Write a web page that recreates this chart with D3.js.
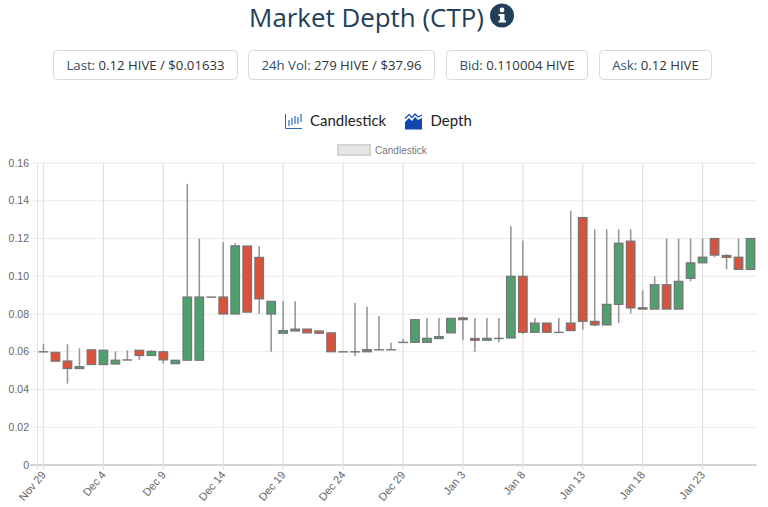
<!DOCTYPE html>
<html><head><meta charset="utf-8">
<script src="https://cdn.jsdelivr.net/npm/d3@7"></script>
<style>
html,body{margin:0;padding:0;background:#fff;overflow:hidden}
svg{display:block}
</style></head><body>
<svg id="c" width="768" height="507"></svg>
<script>
const days=["Nov 29","Nov 30","Dec 1","Dec 2","Dec 3","Dec 4","Dec 5","Dec 6","Dec 7","Dec 8","Dec 9","Dec 10","Dec 11","Dec 12","Dec 13","Dec 14","Dec 15","Dec 16","Dec 17","Dec 18","Dec 19","Dec 20","Dec 21","Dec 22","Dec 23","Dec 24","Dec 25","Dec 26","Dec 27","Dec 28","Dec 29","Dec 30","Dec 31","Jan 1","Jan 2","Jan 3","Jan 4","Jan 5","Jan 6","Jan 7","Jan 8","Jan 9","Jan 10","Jan 11","Jan 12","Jan 13","Jan 14","Jan 15","Jan 16","Jan 17","Jan 18","Jan 19","Jan 20","Jan 21","Jan 22","Jan 23","Jan 24","Jan 25","Jan 26","Jan 27"];
const opens=[.06,.0597,.0551,.0511,.061,.0532,.0535,.0557,.0608,.058,.06,.0537,.0555,.0555,.089,.089,.08,.116,.11,.08,.0698,.071,.072,.071,.07,.06,.06,.06,.0611,.0611,.065,.065,.065,.067,.07,.0779,.067,.0661,.0671,.0673,.1,.0703,.0752,.0703,.0752,.1311,.0761,.0742,.0851,.1186,.0833,.0826,.0955,.0826,.0989,.1071,.12,.111,.1101,.1036];
const closes=[.06,.055,.0511,.0521,.0532,.0608,.0555,.0557,.058,.0602,.0557,.0555,.089,.089,.089,.08,.1161,.081,.088,.0867,.0712,.072,.07,.0698,.06,.06,.06,.0611,.0611,.0611,.065,.077,.0671,.068,.0777,.077,.0661,.0671,.0671,.1,.0703,.0752,.0703,.0703,.0712,.0761,.0742,.0851,.1175,.0832,.0826,.0955,.0826,.0973,.1071,.1101,.1112,.11,.1036,.12];
const highs=[.0641,.0597,.064,.0618,.061,.0608,.0602,.0608,.0608,.0608,.0605,.0555,.149,.12,.089,.118,.1175,.116,.116,.0867,.0867,.0867,.072,.071,.07,.06,.0858,.0839,.0789,.0648,.0668,.077,.0779,.0779,.0777,.0786,.0779,.0779,.0779,.1265,.119,.0779,.0752,.0779,.1348,.1311,.1249,.1249,.1249,.1249,.0925,.1,.12,.12,.12,.12,.12,.1117,.12,.12];
const lows=[.06,.055,.0431,.0511,.0532,.0532,.0535,.0557,.0557,.058,.0537,.0537,.0555,.0555,.089,.08,.08,.081,.08,.06,.0698,.071,.07,.0698,.06,.06,.0578,.06,.0611,.0611,.065,.065,.065,.067,.07,.0661,.06,.0661,.065,.0673,.0694,.0703,.0703,.0703,.0712,.0717,.0735,.0742,.0752,.0802,.0826,.0826,.0826,.0826,.0973,.1071,.1101,.1036,.1036,.1036];
const yTicks=[0,.02,.04,.06,.08,.1,.12,.14,.16];
const xTickEvery=5;
const stats=[["Last:","0.12 HIVE / $0.01633"],["24h Vol:","279 HIVE / $37.96"],["Bid:","0.110004 HIVE"],["Ask:","0.12 HIVE"]];
const statBoxes=[[53.5,184],[248.5,186],[446.5,141],[599.5,112]];

const svg=d3.select("#c");
const F="'Open Sans',sans-serif", H="'Liberation Sans',Arial,sans-serif", L="Lato,sans-serif";
const x=d3.scaleBand().domain(days).range([37.5,756.5]);
const y=d3.scaleLinear().domain([0,.16]).range([465,163]);

// header
svg.append("text").attr("x",366.5).attr("y",27).attr("text-anchor","middle")
  .attr("font-family",F).attr("font-size",25.9).attr("fill","#213f59").text("Market Depth (CTP)");
svg.append("circle").attr("cx",502).attr("cy",15.5).attr("r",12).attr("fill","#213f59");
svg.append("rect").attr("x",500).attr("y",14).attr("width",4.5).attr("height",8).attr("fill","#fff");
svg.append("rect").attr("x",498.5).attr("y",14).attr("width",4).attr("height",2).attr("fill","#fff");
svg.append("rect").attr("x",498.5).attr("y",20.5).attr("width",7.5).attr("height",2).attr("fill","#fff");
svg.append("circle").attr("cx",502).attr("cy",10).attr("r",2.4).attr("fill","#fff");

const st=svg.selectAll("g.st").data(stats).join("g").attr("class","st");
st.append("rect").attr("x",(d,i)=>statBoxes[i][0]).attr("y",50.5).attr("width",(d,i)=>statBoxes[i][1]).attr("height",29)
  .attr("rx",4).attr("fill","#fff").attr("stroke","#d5d9dc").attr("stroke-width",1);
const tt=st.append("text").attr("x",(d,i)=>statBoxes[i][0]+statBoxes[i][1]/2).attr("y",70).attr("text-anchor","middle")
  .attr("font-family",F).attr("font-size",13.2);
tt.append("tspan").attr("fill","#2f4f6b").text(d=>d[0]+" ");
tt.append("tspan").attr("fill","#333").text(d=>d[1]);

// toggle row
const ic=svg.append("g").attr("fill","none").attr("stroke","#2a66c2");
ic.append("path").attr("d","M285.5 114V128.5H302").attr("stroke-width",1);
[[289,120,126],[292,118,125],[295,116,124],[298,117,124],[301,114,122]].forEach(a=>ic.append("path").attr("d",`M${a[0]} ${a[1]}V${a[2]}`).attr("stroke-width",1.2));
svg.append("path").attr("d","M405 129.5V122L409 118L412 121L415 117L418 120L422 118V129.5Z").attr("fill","#1148b0");
svg.append("path").attr("d","M405 118.5L409 114.5L412 117.5L415 114L418 117L422 115").attr("fill","none").attr("stroke","#1148b0").attr("stroke-width",1.2);
svg.append("text").attr("x",310).attr("y",125.5).attr("font-family",L).attr("font-size",15).attr("fill","#222").text("Candlestick");
svg.append("text").attr("x",430.5).attr("y",125.5).attr("font-family",L).attr("font-size",15).attr("fill","#222").text("Depth");

// chart legend
svg.append("rect").attr("x",338).attr("y",145).attr("width",32).attr("height",10).attr("fill","#e6e6e6").attr("stroke","#d2d2d2").attr("stroke-width",2);
svg.append("text").attr("x",375).attr("y",153.5).attr("font-family",H).attr("font-size",10).attr("fill","#777").text("Candlestick");

// grid
const gy=svg.append("g");
gy.selectAll("line").data(yTicks).join("line").attr("x1",30).attr("x2",756.5)
  .attr("y1",d=>y(d)).attr("y2",d=>y(d)).attr("stroke",d=>d===0?"#c4c4c4":"#eaeaea").attr("stroke-width",d=>d===0?1.5:1.2);
const tickDays=days.filter((d,i)=>i%xTickEvery===0);
const gx=svg.append("g");
gx.append("line").attr("x1",37.5).attr("x2",37.5).attr("y1",163).attr("y2",470).attr("stroke","#e2e2e2");
gx.selectAll("line.t").data(tickDays).join("line").attr("class","t")
  .attr("x1",d=>x(d)+x.bandwidth()/2).attr("x2",d=>x(d)+x.bandwidth()/2).attr("y1",163).attr("y2",470)
  .attr("stroke","#e0e0e0").attr("stroke-width",1.2);

// candles
const cg=svg.append("g");
const up=(i)=>closes[i]>=opens[i];
days.forEach((d,i)=>{
  const cx=x(d)+x.bandwidth()/2;
  cg.append("line").attr("x1",cx).attr("x2",cx).attr("y1",y(highs[i])).attr("y2",y(lows[i]))
    .attr("stroke","#989898").attr("stroke-width",1.6);
  const top=y(Math.max(opens[i],closes[i])), bot=y(Math.min(opens[i],closes[i]));
  cg.append("rect").attr("x",cx-4.3).attr("y",top).attr("width",8.6).attr("height",Math.max(bot-top,.2))
    .attr("fill",up(i)?"#4f9f6f":"#d9533c").attr("stroke","#757575").attr("stroke-width",1.2);
});

// labels
svg.append("g").selectAll("text").data(yTicks).join("text").attr("x",29).attr("y",d=>y(d)+3.5)
  .attr("text-anchor","end").attr("font-family",H).attr("font-size",10.5).attr("fill","#666")
  .text(d=>d===0?"0":d.toFixed(2));
svg.append("g").selectAll("text").data(tickDays).join("text")
  .attr("text-anchor","end").attr("font-family",H).attr("font-size",11).attr("fill","#666")
  .attr("transform",d=>`translate(${x(d)+x.bandwidth()/2+3},${475}) rotate(-50)`).text(d=>d);
</script></body></html>
